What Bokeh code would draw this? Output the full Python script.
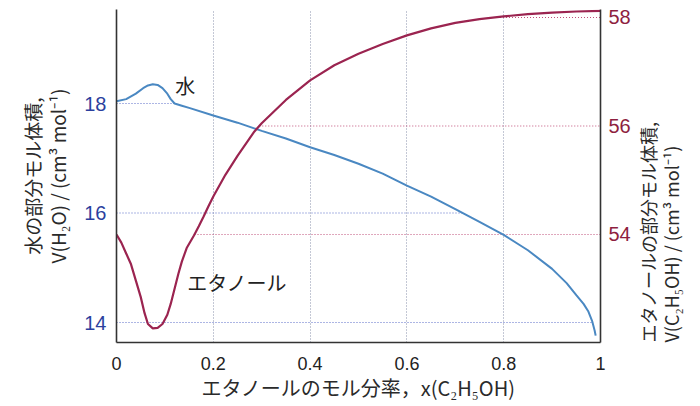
import numpy as np
from math import pi
from bokeh.plotting import figure
from bokeh.models import (Range1d, LinearAxis, FixedTicker, CustomJSTickFormatter, Label)
from bokeh.embed import file_html
from bokeh.resources import INLINE

# ---- data ----
x_ticks = [0, 0.2, 0.4, 0.6, 0.8, 1.0]
left_ticks = [14, 16, 18]
right_ticks = [54, 56, 58]

water_x = [0.000, 0.020, 0.040, 0.055, 0.065, 0.075, 0.085, 0.095, 0.105, 0.112,
           0.120, 0.135, 0.150, 0.200, 0.250, 0.300, 0.350, 0.400, 0.450, 0.500,
           0.550, 0.600, 0.650, 0.700, 0.750, 0.800, 0.850, 0.900, 0.930, 0.950,
           0.965, 0.975, 0.983, 0.988, 0.990]
water_v = [18.04, 18.08, 18.18, 18.28, 18.33, 18.35, 18.34, 18.28, 18.18, 18.08,
           18.00, 17.96, 17.92, 17.78, 17.65, 17.50, 17.36, 17.20, 17.06, 16.90,
           16.72, 16.50, 16.30, 16.07, 15.84, 15.60, 15.32, 14.98, 14.72, 14.50,
           14.34, 14.20, 14.02, 13.85, 13.76]

eth_x = [0.000, 0.010, 0.020, 0.030, 0.040, 0.050, 0.058, 0.065, 0.075, 0.085,
         0.095, 0.105, 0.112, 0.120, 0.128, 0.135, 0.145, 0.160, 0.170, 0.180,
         0.190, 0.200, 0.225, 0.250, 0.285, 0.300, 0.350, 0.400, 0.450, 0.500,
         0.550, 0.600, 0.650, 0.700, 0.750, 0.800, 0.850, 0.900, 0.950, 1.000]
eth_v = [54.00, 53.85, 53.65, 53.45, 53.15, 52.85, 52.55, 52.35, 52.27, 52.28,
         52.35, 52.52, 52.72, 53.00, 53.28, 53.50, 53.75, 53.98, 54.15, 54.33,
         54.52, 54.70, 55.10, 55.45, 55.90, 56.05, 56.48, 56.84, 57.12, 57.33,
         57.51, 57.67, 57.80, 57.90, 57.97, 58.02, 58.06, 58.09, 58.11, 58.12]

x_title = "エタノールのモル分率，x(C₂H₅OH)"
left_title_1 = "水の部分モル体積,"
left_title_2 = "V(H₂O) / (cm³ mol⁻¹)"
right_title_1 = "エタノールの部分モル体積,"
right_title_2 = "V(C₂H₅OH) / (cm³ mol⁻¹)"

BLUE = "#4a88c2"
RED = "#9b2450"
BLUE_TXT = "#2b3f9e"
RED_TXT = "#8e1e40"
JP = "Noto Sans CJK JP"

p = figure(width=700, height=406, output_backend="svg", toolbar_location=None,
           x_range=Range1d(0, 1), y_range=Range1d(13.635, 19.717),
           min_border_left=116, min_border_right=100, min_border_top=9,
           min_border_bottom=64, x_axis_location=None, y_axis_location=None)
p.extra_y_ranges = {"right": Range1d(52.009, 58.147)}
p.outline_line_color = None
p.background_fill_color = "white"
p.border_fill_color = "white"


def style_axis(ax, color, size="20px", side="left"):
    ax.axis_line_color = "#333333"
    ax.axis_line_width = 1.6
    ax.major_tick_in = 0
    ax.major_tick_out = 0
    ax.minor_tick_line_color = None
    ax.major_label_standoff = 10
    ax.major_label_text_font = "Liberation Sans"
    ax.major_label_text_font_size = size
    ax.major_label_text_color = color
    ax.axis_label_text_font = JP
    ax.axis_label_text_font_style = "normal"
    ax.axis_label_text_font_size = "19px"
    ax.axis_label_text_color = "#2a2a2a"
    if side == "right":
        ax.axis_label_text_font_size = "18px"
        ax.axis_label_orientation = pi / 2
        ax.axis_label_align = "start"


def title_axis(text, side, range_name=None):
    kw = {"y_range_name": range_name} if range_name else {}
    ax = LinearAxis(ticker=FixedTicker(ticks=[]), axis_label=text, **kw)
    style_axis(ax, "#000000", side=side)
    ax.axis_line_color = None
    ax.major_label_standoff = 0
    return ax


xaxis = LinearAxis(ticker=FixedTicker(ticks=x_ticks),
                   formatter=CustomJSTickFormatter(code="return tick.toString()"),
                   axis_label=x_title)
style_axis(xaxis, "#222222", "18px", side="below")
xaxis.major_label_standoff = 14
xaxis.axis_label_standoff = 0
xaxis.axis_label_text_font_size = "20px"
p.add_layout(xaxis, "below")

# left: inner axis with ticks + second title line, outer axis with first line
laxis = LinearAxis(ticker=FixedTicker(ticks=left_ticks), axis_label=left_title_2)
style_axis(laxis, BLUE_TXT)
laxis.axis_label_standoff = 10
p.add_layout(laxis, "left")
laxis2 = title_axis(left_title_1, "left")
laxis2.axis_label_standoff = -4
p.add_layout(laxis2, "left")

# right: inner axis with ticks + first title line, outer axis with second line
raxis = LinearAxis(y_range_name="right", ticker=FixedTicker(ticks=right_ticks),
                   axis_label=right_title_1)
style_axis(raxis, RED_TXT, side="right")
raxis.major_label_standoff = 8
raxis.axis_label_standoff = 14
p.add_layout(raxis, "right")
raxis2 = title_axis(right_title_2, "right", "right")
raxis2.axis_label_standoff = -6
p.add_layout(raxis2, "right")

p.xgrid.ticker = FixedTicker(ticks=x_ticks[1:-1])
p.xgrid.grid_line_color = "#8890aa"
p.xgrid.grid_line_dash = "1 2"
p.xgrid.grid_line_width = 1
p.ygrid.visible = False

# reference lines from axis to curve crossings
wx = np.array(water_x); wv = np.array(water_v)
ex = np.array(eth_x); ev = np.array(eth_v)
dmask = wx >= 0.075
wxd, wvd = wx[dmask][::-1], wv[dmask][::-1]
w_cross = [float(np.interp(t, wvd, wxd)) for t in left_ticks]
rmask = ex >= 0.085
e_cross = [float(np.interp(t, ev[rmask], ex[rmask])) for t in right_ticks]

p.segment(x0=[0] * len(left_ticks), x1=w_cross, y0=left_ticks, y1=left_ticks,
          line_color="#5a6cc8", line_dash="1 2", line_width=1.2)
p.segment(x0=e_cross, x1=[1] * len(right_ticks), y0=right_ticks, y1=right_ticks,
          line_color="#c0507a", line_dash="1 2", line_width=1.2, y_range_name="right")

# curves
p.line(water_x, water_v, line_color=BLUE, line_width=2)
p.line(eth_x, eth_v, line_color=RED, line_width=2.2, y_range_name="right")

# curve labels
p.add_layout(Label(x=0.142, y=18.33, text="水", text_font=JP, text_font_size="20px",
                   text_color="#222222", text_align="center", text_baseline="middle"))
p.add_layout(Label(x=0.146, y=14.73, text="エタノール", text_font=JP, text_font_size="20px",
                   text_color="#222222", text_align="left", text_baseline="middle"))

open("out.html", "w").write(file_html(p, INLINE))
